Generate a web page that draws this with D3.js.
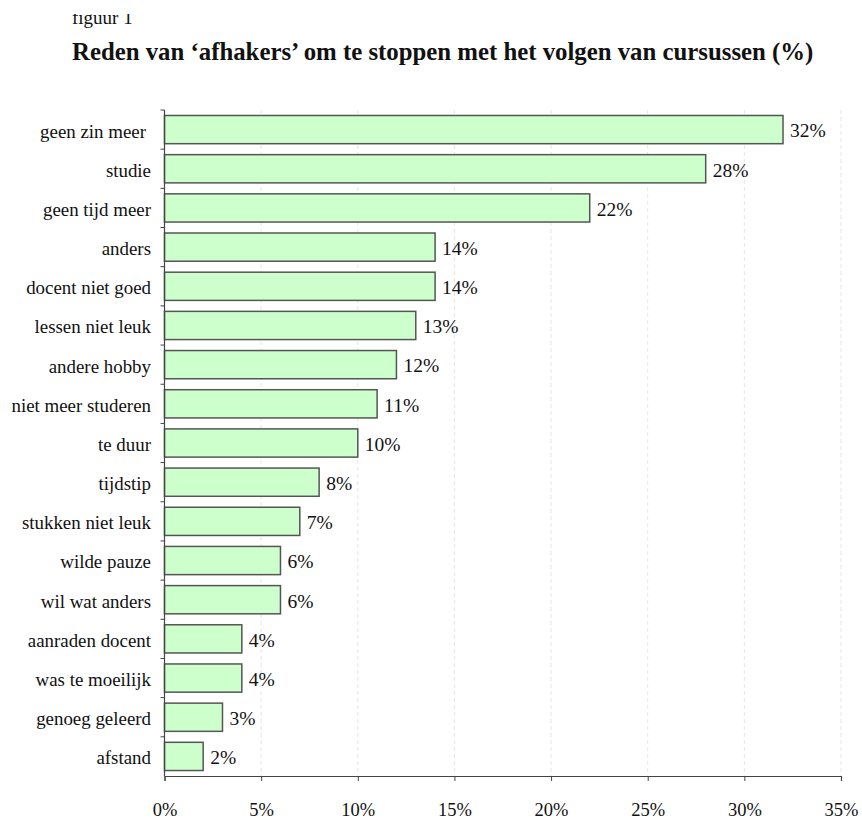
<!DOCTYPE html>
<html lang="nl">
<head>
<meta charset="UTF-8">
<title>Reden van afhakers</title>
<script src="https://d3js.org/d3.v7.min.js"></script>
<style>
  body { margin: 0; background: #fff; }
  text { font-family: "Liberation Serif", "Times New Roman", serif; fill: #111; }
</style>
</head>
<body>
<div id="chart"></div>
<script>
// reasons, top to bottom
var categories = ["geen zin meer", "studie", "geen tijd meer", "anders", "docent niet goed",
  "lessen niet leuk", "andere hobby", "niet meer studeren", "te duur", "tijdstip",
  "stukken niet leuk", "wilde pauze", "wil wat anders", "aanraden docent",
  "was te moeilijk", "genoeg geleerd", "afstand"];
var values = [32, 28, 22, 14, 14, 13, 12, 11, 10, 8, 7, 6, 6, 4, 4, 3, 2];
var xTicks = [0, 5, 10, 15, 20, 25, 30, 35];

var width = 862, height = 818;
var plotLeft = 164.5, plotRight = 841, plotTop = 110, plotBottom = 776;

var svg = d3.select("#chart").append("svg")
  .attr("width", width)
  .attr("height", height);

// header ("figuur 1" is cut at the top in the scan)
svg.append("clipPath").attr("id", "cut")
  .append("rect").attr("x", 0).attr("y", 14).attr("width", 400).attr("height", 30);
svg.append("text")
  .attr("x", 72).attr("y", 24)
  .attr("clip-path", "url(#cut)")
  .style("font-size", "19px")
  .text("figuur 1");

svg.append("text")
  .attr("x", 72).attr("y", 60)
  .style("font-size", "24.8px")
  .style("font-weight", "bold")
  .text("Reden van \u2018afhakers\u2019 om te stoppen met het volgen van cursussen (%)");

var x = d3.scaleLinear().domain([0, 35]).range([plotLeft, plotRight]);
var y = d3.scaleBand().domain(categories).range([plotTop, plotBottom]).paddingInner(0.28).paddingOuter(0.14);

// dashed grid
svg.append("g").selectAll("line")
  .data(xTicks.slice(1))
  .enter().append("line")
  .attr("x1", function(d){ return x(d); })
  .attr("x2", function(d){ return x(d); })
  .attr("y1", plotTop)
  .attr("y2", plotBottom)
  .attr("stroke", "#e6e6e6")
  .attr("stroke-dasharray", "4,3");

// bars
svg.append("g").selectAll("rect")
  .data(values)
  .enter().append("rect")
  .attr("x", x(0))
  .attr("y", function(d, i){ return y(categories[i]); })
  .attr("width", function(d){ return x(d) - x(0); })
  .attr("height", y.bandwidth())
  .attr("fill", "#ccffcc")
  .attr("stroke", "#555")
  .attr("stroke-width", 1.5);

// value labels
svg.append("g").selectAll("text")
  .data(values)
  .enter().append("text")
  .attr("x", function(d){ return x(d) + 7; })
  .attr("y", function(d, i){ return y(categories[i]) + y.bandwidth() / 2; })
  .attr("dy", "0.4em")
  .style("font-size", "19.5px")
  .text(function(d){ return d + "%"; });

// y axis: ticks on band edges
var yAxis = svg.append("g");
yAxis.append("line")
  .attr("x1", plotLeft).attr("x2", plotLeft)
  .attr("y1", plotTop).attr("y2", plotBottom)
  .attr("stroke", "#444").attr("stroke-width", 1.2);
var step = y.step();
yAxis.selectAll("line.tk")
  .data(d3.range(categories.length))
  .enter().append("line")
  .attr("class", "tk")
  .attr("x1", plotLeft - 4).attr("x2", plotLeft)
  .attr("y1", function(i){ return y(categories[i]) - y.paddingOuter() * step; })
  .attr("y2", function(i){ return y(categories[i]) - y.paddingOuter() * step; })
  .attr("stroke", "#444");
yAxis.selectAll("text")
  .data(categories)
  .enter().append("text")
  .attr("x", function(d, i){ return i === 0 ? 146 : 151; })
  .attr("y", function(d){ return y(d) + y.bandwidth() / 2; })
  .attr("dy", "0.42em")
  .attr("text-anchor", "end")
  .style("font-size", "18.9px")
  .text(function(d){ return d; });

// x axis
var xAxis = d3.axisBottom(x)
  .tickValues(xTicks)
  .tickSize(5)
  .tickFormat(function(d){ return d + "%"; });
var gx = svg.append("g")
  .attr("transform", "translate(0," + plotBottom + ")")
  .call(xAxis);
gx.select(".domain").attr("stroke", "#444").attr("stroke-width", 1.2);
gx.selectAll(".tick line").attr("stroke", "#444");
gx.selectAll(".tick text")
  .attr("y", 26)
  .attr("dy", "0.74em")
  .style("font-size", "18.5px")
  .style("font-family", "'Liberation Serif', serif")
  .attr("fill", "#111");
</script>
</body>
</html>
